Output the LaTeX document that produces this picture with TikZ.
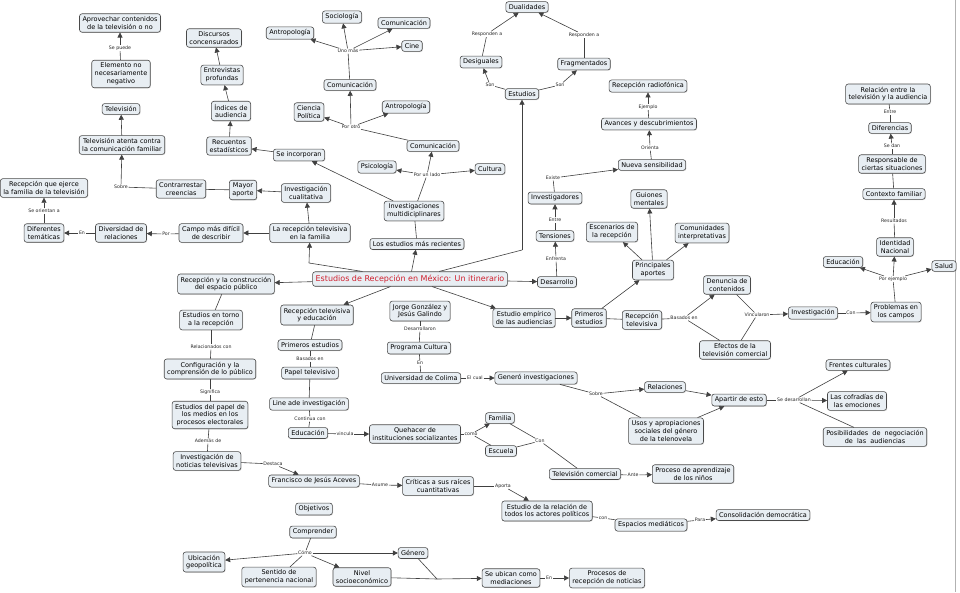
\documentclass[tikz,border=0pt]{standalone}
\usepackage{fontspec}
\setmainfont{DejaVu Sans}
\usetikzlibrary{arrows.meta,shadows}
\definecolor{boxfill}{HTML}{E8EEF3}
\definecolor{boxline}{HTML}{4A4A4A}
\definecolor{titlered}{HTML}{D0202E}
\begin{document}
\begin{tikzpicture}[x=1pt,y=-1pt,
 box/.style={draw=boxline, fill=boxfill, rounded corners=2.5pt, font=\fontsize{6.5}{7.8}\selectfont, align=center, inner xsep=3pt, inner ysep=2.8pt, line width=0.6pt, drop shadow={shadow xshift=0.7pt,shadow yshift=-0.7pt,fill=black!30}},
 lab/.style={font=\fontsize{4.7}{5.2}\selectfont, fill=white, inner sep=0.6pt, text=black!85},
 ln/.style={draw=black!75, line width=0.6pt},
 ar/.style={ln, -{Triangle[length=5pt,width=5pt]}},
]
\useasboundingbox (0,0) rectangle (960,592);
\fill[white] (0,0) rectangle (960,592);
\draw[black!30, line width=0.8pt] (955,0) -- (955,592);

% ---------- top-left ----------
\node[box] (a1) at (120,23) {Aprovechar contenidos\\de la televisión o no};
\node[lab] (lsp) at (120,48) {Se puede};
\node[box] (a2) at (121,74) {Elemento no\\necesariamente\\negativo};
\node[box] (a3) at (121,109) {Televisión};
\node[box] (a4) at (122,145) {Televisión atenta contra\\la comunicación familiar};
\node[lab] (lsob1) at (121,187) {Sobre};
\node[box] (a5) at (181,189) {Contrarrestar\\creencias};
\node[box] (a6) at (243,190) {Mayor\\aporte};
\node[box] (a7) at (306,193) {Investigación\\cualitativa};
\node[box] (a8) at (44,188) {Recepción que ejerce\\la familia de la televisión};
\node[lab] (lori) at (44,211) {Se orientan a};
\node[box] (a9) at (44,233) {Diferentes\\temáticas};
\node[lab] (len1) at (82,233) {En};
\node[box] (a10) at (121,233) {Diversidad de\\relaciones};
\node[lab] (lpor) at (166,234) {Por};
\node[box] (a11) at (211,233) {Campo más difícil\\de describir};
\node[box] (a12) at (310,233) {La recepción televisiva\\en la familia};

% ---------- top-middle ----------
\node[box] (b1) at (342,17) {Sociología};
\node[box] (b2) at (404,23) {Comunicación};
\node[box] (b3) at (290,33) {Antropología};
\node[box] (b4) at (412,46) {Cine};
\node[lab] (luno) at (348,51) {Uno más};
\node[box] (b5) at (350,85) {Comunicación};
\node[box] (b6) at (309,112) {Ciencia\\Política};
\node[box] (b7) at (406,107) {Antropología};
\node[lab] (lotro) at (351,127) {Por otro};
\node[box] (b8) at (433,146) {Comunicación};
\node[box] (b9) at (377,167) {Psicología};
\node[box] (b10) at (490,169) {Cultura};
\node[lab] (llado) at (427,175) {Por un lado};
\node[box] (b11) at (414,211) {Investigaciones\\multidiciplinares};
\node[box] (b12) at (417,244) {Los estudios más recientes};
\node[box] (c1) at (299,155) {Se incorporan};
\node[box] (c2) at (229,146) {Recuentos\\estadísticos};
\node[box] (c3) at (231,111) {Índices de\\audiencia};
\node[box] (c4) at (222,75) {Entrevistas\\profundas};
\node[box] (c5) at (214,38) {Discursos\\concensurados};

% ---------- main ----------
\node[box, font=\fontsize{8}{9.5}\selectfont, text=titlered, inner ysep=3.2pt] (main) at (410,279) {Estudios de Recepción en México: Un itinerario};

% ---------- top-right ----------
\node[box] (d1) at (527,7) {Dualidades};
\node[box] (d2) at (481,62) {Desiguales};
\node[box] (d3) at (584,64) {Fragmentados};
\node[lab] (lr1) at (487,34) {Responden a};
\node[lab] (lr2) at (584,35) {Responden a};
\node[box] (d4) at (522,94) {Estudios};
\node[lab] (lson1) at (490,85) {Son};
\node[lab] (lson2) at (560,85) {Son};
\node[box] (e1) at (648,86) {Recepción radiofónica};
\node[lab] (lej) at (648,107) {Ejemplo};
\node[box] (e2) at (649,124) {Avances y descubrimientos};
\node[lab] (lor) at (650,148) {Orienta};
\node[box] (e3) at (652,165) {Nueva sensibilidad};
\node[lab] (lex) at (553,178) {Existe};
\node[box] (e4) at (555,198) {Investigadores};
\node[lab] (lent) at (555,220) {Entre};
\node[box] (e5) at (555,236) {Tensiones};
\node[lab] (lenf) at (556,259) {Enfrenta};
\node[box] (e6) at (557,282) {Desarrollo};
\node[box] (f1) at (649,199) {Guiones\\mentales};
\node[box] (f2) at (612,232) {Escenarios de\\la recepción};
\node[box] (f3) at (702,233) {Comunidades\\interpretativas};
\node[box] (f4) at (653,270) {Principales\\aportes};

% ---------- right ----------
\node[box] (g1) at (524,318) {Estudio empírico\\de las audiencias};
\node[box] (g2) at (589,318) {Primeros\\estudios};
\node[box] (g3) at (642,320) {Recepción\\televisiva};
\node[lab] (lbas1) at (684,318) {Basados en};
\node[box] (g4) at (727,285) {Denuncia de\\contenidos};
\node[box] (g5) at (735,350) {Efectos de la\\televisión comercial};
\node[lab] (lvin) at (757,315) {Vincularon};
\node[box] (g6) at (813,313) {Investigación};
\node[lab] (lcon1) at (851,313) {Con};
\node[box] (g7) at (896,312) {Problemas en\\los campos};
\node[lab] (lpej) at (893,279) {Por ejemplo};
\node[box] (g8) at (843,262) {Educación};
\node[box] (g9) at (944,266) {Salud};
\node[box] (g10) at (895,247) {Identidad\\Nacional};
\node[lab] (lres) at (894,221) {Resultados};
\node[box] (g11) at (894,194) {Contexto familiar};
\node[box] (g12) at (892,164) {Responsable de\\ciertas situaciones};
\node[lab] (lsd) at (892,146) {Se dan};
\node[box] (g13) at (890,128) {Diferencias};
\node[lab] (lent2) at (890,112) {Entre};
\node[box] (g14) at (888,94) {Relación entre la\\televisión y la audiencia};

% ---------- bottom-left ----------
\node[box] (h1) at (226,284) {Recepción y la construcción\\del espacio público};
\node[box] (h2) at (211,320) {Estudios en torno\\a la recepción};
\node[lab] (lrel) at (211,347) {Relacionados con};
\node[box] (h3) at (210,369) {Configuración y la\\comprensión de lo público};
\node[lab] (lsig) at (210,392) {Significa};
\node[box] (h4) at (210,415) {Estudios del papel de\\los medios en los\\procesos electorales};
\node[lab] (lade) at (208,441) {Además de};
\node[box] (h5) at (207,461) {Investigación de\\noticias televisivas};
\node[lab] (ldes) at (273,464) {Destaca};
\node[box] (h6) at (314,481) {Francisco de Jesús Aceves};
\node[lab] (lasu) at (380,485) {Asume};
\node[box] (h7) at (438,486) {Críticas a sus raíces\\cuantitativas};
\node[lab] (lapo) at (503,486) {Aporta};
\node[box] (h8) at (547,511) {Estudio de la relación de\\todos los actores políticos};
\node[lab] (lcon2) at (603,518) {con};
\node[box] (h9) at (651,525) {Espacios mediáticos};
\node[lab] (lpara) at (700,520) {Para};
\node[box] (h10) at (763,515) {Consolidación democrática};

% ---------- bottom-middle ----------
\node[box] (i1) at (317,315) {Recepción televisiva\\y educación};
\node[box] (i2) at (310,345) {Primeros estudios};
\node[lab] (lbas2) at (310,359) {Basados en};
\node[box] (i3) at (310,373) {Papel televisivo};
\node[box] (i4) at (309,404) {Line ade investigación};
\node[lab] (lcont) at (310,419) {Continua con};
\node[box] (i5) at (308,433) {Educación};
\node[lab] (lvin2) at (345,434) {vincula};
\node[box] (i6) at (415,434) {Quehacer de\\instituciones socializantes};
\node[lab] (lcomo) at (471,434) {como};
\node[box] (i7) at (500,418) {Familia};
\node[box] (i8) at (501,451) {Escuela};
\node[lab] (lcon3) at (540,441) {Con};
\node[box] (i9) at (585,474) {Televisión comercial};
\node[lab] (lante) at (633,475) {Ante};
\node[box] (i10) at (693,474) {Proceso de aprendizaje\\de los niños};

\node[box] (j1) at (420,311) {Jorge González y\\Jesús Galindo};
\node[lab] (ldesa) at (420,329) {Desarrollaron};
\node[box] (j2) at (419,348) {Programa Cultura};
\node[lab] (len2) at (420,363) {En};
\node[box] (j3) at (421,378) {Universidad de Colima};
\node[lab] (lcual) at (475,378) {El cual};
\node[box] (j4) at (536,378) {Generó investigaciones};
\node[lab] (lsob2) at (596,394) {Sobre};
\node[box] (j5) at (665,387) {Relaciones};
\node[box] (j6) at (666,431) {Usos y apropiaciones\\sociales del género\\de la telenovela};
\node[box] (j7) at (739,400) {Apartir de esto};
\node[lab] (lsdes) at (794,400) {Se desarrollan};
\node[box] (j8) at (858,365) {Frentes culturales};
\node[box] (j9) at (857,401) {Las cofradías de\\las emociones};
\node[box] (j10) at (875,437) {Posibilidades\ \ de\ \ negociación\\de\ \ las\ \ audiencias};

% ---------- bottom ----------
\node[box] (k1) at (314,509) {Objetivos};
\node[box] (k2) at (313,532) {Comprender};
\node[lab] (lcomo2) at (305,553) {Cómo};
\node[box] (k3) at (204,562) {Ubicación\\geopolítica};
\node[box] (k4) at (279,577) {Sentido de\\pertenencia nacional};
\node[box] (k5) at (362,577) {Nivel\\socioeconómico};
\node[box] (k6) at (413,553) {Género};
\node[box] (k7) at (511,578) {Se ubican como\\mediaciones};
\node[lab] (len3) at (549,578) {En};
\node[box] (k8) at (607,578) {Procesos de\\recepción de noticias};
\coordinate (kj) at (437,579);

\coordinate (w1) at (309,263);
\coordinate (w2) at (522,250);

% ---------- connectors ----------
\draw[ln] (a2) -- (lsp); \draw[ar] (lsp) -- (a1);
\draw[ln] (a5) -- (lsob1); \draw[ar] (lsob1) -- (a4);
\draw[ar] (a4) -- (a3);
\draw[ln] (a6) -- (a5);
\draw[ar] (a7) -- (a6);
\draw[ar] (a12) -- (a7);
\draw[ar] (a12) -- (a11);
\draw[ln] (a11) -- (lpor); \draw[ar] (lpor) -- (a10);
\draw[ln] (a10) -- (len1); \draw[ar] (len1) -- (a9);
\draw[ln] (a9) -- (lori); \draw[ar] (lori) -- (a8);
\draw[ln] (main) -- (w1); \draw[ar] (w1) -- (a12);

\draw[ln] (b5) -- (luno);
\draw[ar] (luno) -- (b1); \draw[ar] (luno) -- (b2); \draw[ar] (luno) -- (b3); \draw[ar] (luno) -- (b4);
\draw[ln] (b8) -- (lotro);
\draw[ar] (lotro) -- (b5); \draw[ar] (lotro) -- (b6); \draw[ar] (lotro) -- (b7);
\draw[ln] (b11) -- (llado);
\draw[ar] (llado) -- (b8); \draw[ar] (llado) -- (b9); \draw[ar] (llado) -- (b10);
\draw[ar] (b11) -- (c1);
\draw[ar] (c1) -- (c2);
\draw[ar] (c2) -- (c3); \draw[ar] (c3) -- (c4); \draw[ar] (c4) -- (c5);
\draw[ln] (b12) -- (b11);
\draw[ar] (main) -- (b12);

\draw[ln] (main) -- (w2); \draw[ar] (w2) -- (d4);
\draw[ln] (d4) -- (lson1); \draw[ar] (lson1) -- (d2);
\draw[ln] (d4) -- (lson2); \draw[ar] (lson2) -- (d3);
\draw[ln] (d2) -- (lr1); \draw[ar] (lr1) -- (d1);
\draw[ln] (d3) -- (lr2); \draw[ar] (lr2) -- (d1);
\draw[ar] (main) -- (e6);
\draw[ln] (e6) -- (lenf); \draw[ar] (lenf) -- (e5);
\draw[ln] (e5) -- (lent); \draw[ar] (lent) -- (e4);
\draw[ln] (e4) -- (lex); \draw[ar] (lex) -- (e3);
\draw[ln] (e3) -- (lor); \draw[ar] (lor) -- (e2);
\draw[ln] (e2) -- (lej); \draw[ar] (lej) -- (e1);
\draw[ar] (g2) -- (f4);
\draw[ar] (f4) -- (f1); \draw[ar] (f4) -- (f2); \draw[ar] (f4) -- (f3);

\draw[ar] (main) -- (g1);
\draw[ar] (g1) -- (g2);
\draw[ln] (g2) -- (g3);
\draw[ln] (g3) -- (lbas1); \draw[ar] (lbas1) -- (g4); \draw[ln] (lbas1) -- (g5);
\draw[ln] (g4) -- (lvin); \draw[ln] (g5) -- (lvin); \draw[ar] (lvin) -- (g6);
\draw[ln] (g6) -- (lcon1); \draw[ar] (lcon1) -- (g7);
\draw[ln] (g7) -- (lpej);
\draw[ar] (lpej) -- (g8); \draw[ar] (lpej) -- (g9); \draw[ar] (lpej) -- (g10);
\draw[ln] (g10) -- (lres); \draw[ar] (lres) -- (g11);
\draw[ln] (g11) -- (g12);
\draw[ln] (g12) -- (lsd); \draw[ar] (lsd) -- (g13);
\draw[ln] (g13) -- (lent2); \draw[ln] (lent2) -- (g14);

\draw[ar] (main) -- (h1);
\draw[ln] (h1) -- (h2);
\draw[ln] (h2) -- (lrel); \draw[ln] (lrel) -- (h3);
\draw[ln] (h3) -- (lsig); \draw[ln] (lsig) -- (h4);
\draw[ln] (h4) -- (lade); \draw[ln] (lade) -- (h5);
\draw[ln] (h5) -- (ldes); \draw[ar] (ldes) -- (h6);
\draw[ln] (h6) -- (lasu); \draw[ar] (lasu) -- (h7);
\draw[ln] (h7) -- (lapo); \draw[ar] (lapo) -- (h8);
\draw[ln] (h8) -- (lcon2); \draw[ln] (lcon2) -- (h9);
\draw[ln] (h9) -- (lpara); \draw[ar] (lpara) -- (h10);

\draw[ar] (main) -- (i1);
\draw[ln] (i1) -- (i2);
\draw[ln] (i2) -- (lbas2); \draw[ln] (lbas2) -- (i3);
\draw[ln] (i3) -- (i4);
\draw[ln] (i4) -- (lcont); \draw[ln] (lcont) -- (i5);
\draw[ln] (i5) -- (lvin2); \draw[ar] (lvin2) -- (i6);
\draw[ln] (i6) -- (lcomo); \draw[ar] (lcomo) -- (i7); \draw[ln] (lcomo) -- (i8);
\draw[ln] (i7) -- (lcon3); \draw[ln] (i8) -- (lcon3); \draw[ln] (lcon3) -- (i9);
\draw[ln] (i9) -- (lante); \draw[ar] (lante) -- (i10);

\draw[ln] (j1) -- (ldesa); \draw[ln] (ldesa) -- (j2);
\draw[ln] (j2) -- (len2); \draw[ln] (len2) -- (j3);
\draw[ln] (j3) -- (lcual); \draw[ar] (lcual) -- (j4);
\draw[ln] (j4) -- (lsob2); \draw[ar] (lsob2) -- (j5); \draw[ln] (lsob2) -- (j6);
\draw[ar] (j5) -- (j7); \draw[ar] (j6) -- (j7);
\draw[ln] (j7) -- (lsdes);
\draw[ar] (lsdes) -- (j8); \draw[ar] (lsdes) -- (j9); \draw[ln] (lsdes) -- (j10);

\draw[ln] (k2) -- (lcomo2);
\draw[ar] (lcomo2) -- (k3); \draw[ar] (lcomo2) -- (k6); \draw[ar] (lcomo2) -- (k5); \draw[ln] (lcomo2) -- (k4);
\draw[ln] (k6) -- (kj); \draw[ln] (k5) -- (kj); \draw[ar] (kj) -- (k7);
\draw[ln] (k7) -- (len3); \draw[ar] (len3) -- (k8);
\end{tikzpicture}
\end{document}
